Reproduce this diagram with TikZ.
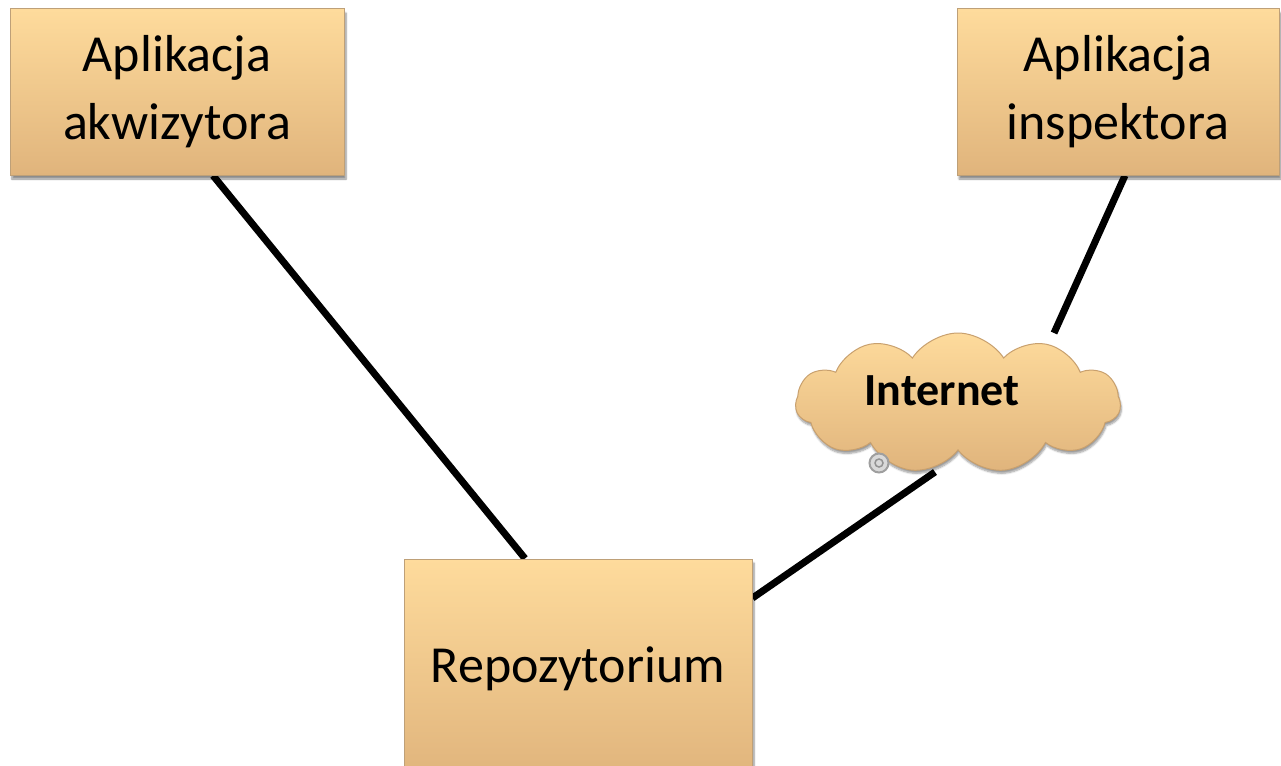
\documentclass[tikz,border=0pt]{standalone}
\usepackage{fontspec}
\setmainfont{Carlito}
\usetikzlibrary{shapes.symbols,shadows.blur,calc,backgrounds}

\definecolor{boxtop}{RGB}{254,219,156}
\definecolor{boxbot}{RGB}{224,180,124}
\definecolor{boxedge}{RGB}{190,160,120}
\definecolor{cloudedge}{RGB}{200,160,110}

\tikzset{
  appbox/.style={rectangle, draw=boxedge, line width=1, top color=boxtop, bottom color=boxbot,
    inner sep=0, align=center, font=\fontsize{52}{68}\selectfont,
    blur shadow={shadow xshift=2pt, shadow yshift=-4pt, shadow blur steps=6, shadow opacity=45}},
  netcloud/.style={cloud, cloud puffs=11, cloud puff arc=115, aspect=2.5, draw=cloudedge, line width=1,
    top color=boxtop, bottom color=boxbot, inner sep=0,
    blur shadow={shadow xshift=1pt, shadow yshift=-3pt, shadow blur steps=6, shadow opacity=40}},
  link/.style={line width=7, black}
}

\begin{document}
\begin{tikzpicture}[x=1pt,y=-1pt]
\useasboundingbox (0,0) rectangle (1281,765);

% application boxes and the repository
\node[appbox, minimum width=334, minimum height=166] (akw) at (177,92) {Aplikacja\\akwizytora};
\node[appbox, minimum width=322, minimum height=166] (insp) at (1118,92) {Aplikacja\\inspektora};
\node[appbox, minimum width=348, minimum height=220] (repo) at (578,669) {Repozytorium};

% internet cloud
\node[netcloud, minimum width=325, minimum height=140] (net) at (958,403) {};
\node[font=\fontsize{46}{50}\selectfont\bfseries, inner sep=0] (nettxt) at (942,391) {Internet};

% small tail bubble of the cloud
\node[circle, draw=gray!75, fill=gray!30, line width=2, minimum size=19, inner sep=0] (tail) at (879,463) {};
\node[circle, draw=gray!85, line width=1.5, minimum size=8, inner sep=0] (tailin) at (tail) {};

% connections (shifts are in page units: positive yshift points up)
\begin{scope}[on background layer]
  \coordinate (netin) at ([xshift=96,yshift=70]net.center);
  \coordinate (netout) at ([xshift=-23,yshift=-69]net.center);
  \draw[link] ([xshift=36]akw.south) -- ([xshift=-53]repo.north);
  \draw[link] ([xshift=7]insp.south) -- (netin);
  \draw[link] (netout) -- ([yshift=71]repo.east);
\end{scope}
\end{tikzpicture}
\end{document}
